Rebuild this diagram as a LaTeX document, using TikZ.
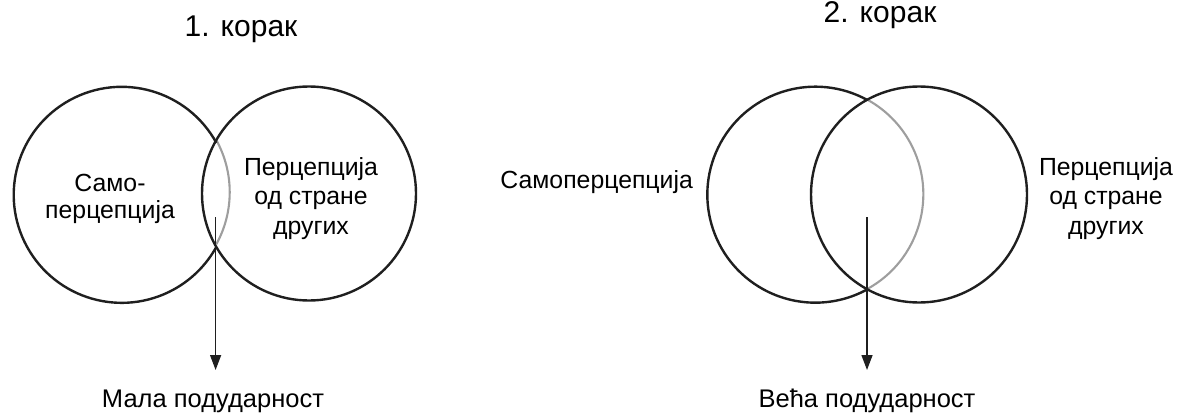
\documentclass[tikz,border=0pt]{standalone}
\usepackage{fontspec}
\setmainfont{Liberation Sans}
\usetikzlibrary{arrows.meta}
\begin{document}
\begin{tikzpicture}[x=1pt,y=1pt,
  circ/.style={line width=2.4pt, draw=black!88},
  lens/.style={line width=2.1pt, draw=black!38},
  ptr/.style={line width=1.4pt, draw=black!88, -{Triangle[length=15pt,width=11pt]}},
  ring/.style={circle, inner sep=0pt, outer sep=0pt, draw=none},
  lbl/.style={font=\fontsize{24.8}{29.5}\selectfont, align=center, inner sep=0pt},
  lbltight/.style={font=\fontsize{24.8}{27}\selectfont, align=center, inner sep=0pt},
  btm/.style={font=\fontsize{25.5}{30}\selectfont, inner sep=0pt, anchor=base},
  ttl/.style={font=\fontsize{30}{36}\selectfont, inner sep=0pt, anchor=base}]
\useasboundingbox (0,0) rectangle (1182,416);

% ---------- step 1 ----------
\node[ttl] (t1) at (241,379) {1. корак};
\node[ring, minimum size=216pt] (L1) at (121,222.5) {};
\node[ring, minimum size=214pt] (R1) at (309,222.5) {};
\draw[lens] (L1.-28.8) arc[start angle=-28.8, end angle=28.8, radius=108];
\draw[circ] (L1.28.8) arc[start angle=28.8, end angle=331.2, radius=108];
\draw[circ] (R1.center) circle[radius=107];
\node[lbltight] (s1) at (110,216.6) {Само-\\перцепција};
\node[lbl] (o1) at (311,217.6) {Перцепција\\од стране\\других};
\node[btm] (m1) at (213,9) {Мала подударност};
\coordinate (a1) at (215.6,199);
\coordinate (b1) at (215.6,46);
\draw[ptr] (a1) -- (b1);

% ---------- step 2 ----------
\node[ttl] (t2) at (880,393) {2. корак};
\node[ring, minimum size=216pt] (L2) at (815,221.5) {};
\node[ring, minimum size=216pt] (R2) at (919,221.5) {};
\draw[lens] (L2.-61.2) arc[start angle=-61.2, end angle=61.2, radius=108];
\draw[circ] (L2.61.2) arc[start angle=61.2, end angle=298.8, radius=108];
\draw[circ] (R2.center) circle[radius=108];
\node[lbl, anchor=base east] (s2) at (693,228) {Самоперцепција};
\node[lbl] (o2) at (1106,217.6) {Перцепција\\од стране\\других};
\node[btm] (m2) at (867,9) {Већа подударност};
\coordinate (a2) at (867,199);
\coordinate (b2) at (867,46);
\draw[ptr] (a2) -- (b2);
\end{tikzpicture}
\end{document}
